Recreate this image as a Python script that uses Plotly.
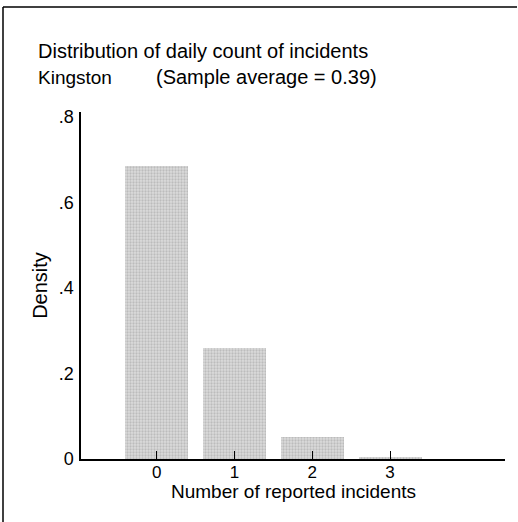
import plotly.graph_objects as go

counts = [0, 1, 2, 3]
density = [0.685, 0.26, 0.051, 0.004]
x_ticks = [0, 1, 2, 3]
x_tick_labels = ["0", "1", "2", "3"]
y_ticks = [0, 0.2, 0.4, 0.6, 0.8]
y_tick_labels = ["0", ".2", ".4", ".6", ".8"]

title_line1 = "Distribution of daily count of incidents"
title_place = "Kingston"
title_avg = "(Sample average = 0.39)"
x_title = "Number of reported incidents"
y_title = "Density"

FONT = "Liberation Sans, Arial, sans-serif"

W, H = 518, 522
l, r, t, b = 81, 13, 112, 63
pw, ph = W - l - r, H - t - b


def px_x(px):
    return (px - l) / pw


def px_y(py):
    return (H - b - py) / ph


fig = go.Figure()
fig.add_trace(go.Bar(
    x=counts, y=density, width=0.81,
    marker=dict(color="#cccccc", line=dict(width=0),
                pattern=dict(shape=".", fgcolor="#9c9c9c", bgcolor="#dcdcdc", size=3, solidity=0.45)),
    showlegend=False,
))

fig.update_layout(
    width=W, height=H,
    margin=dict(l=l, r=r, t=t, b=b, autoexpand=False),
    paper_bgcolor="white", plot_bgcolor="white",
    font=dict(family=FONT, size=18, color="black"),
    bargap=0,
    xaxis=dict(
        range=[-0.973, 4.477], tickvals=x_ticks, ticktext=x_tick_labels,
        ticks="inside", ticklen=8, tickcolor="black", tickwidth=1,
        ticklabelstandoff=-3,
        showline=True, linecolor="black", linewidth=1.5, showgrid=False, zeroline=False,
        tickfont=dict(size=17),
    ),
    yaxis=dict(
        range=[0, 0.812], tickvals=y_ticks, ticktext=y_tick_labels,
        ticks="", ticklabelstandoff=2,
        showline=True, linecolor="black", linewidth=1.5, showgrid=False, zeroline=False,
        title=dict(text=y_title, standoff=6, font=dict(size=20)),
        tickfont=dict(size=18),
    ),
    annotations=[
        dict(text=title_line1, x=px_x(36), y=px_y(51), xref="paper", yref="paper",
             xanchor="left", yanchor="middle", showarrow=False, font=dict(size=20)),
        dict(text=title_place, x=px_x(36), y=px_y(77), xref="paper", yref="paper",
             xanchor="left", yanchor="middle", showarrow=False, font=dict(size=19)),
        dict(text=title_avg, x=px_x(154), y=px_y(77), xref="paper", yref="paper",
             xanchor="left", yanchor="middle", showarrow=False, font=dict(size=20)),
        dict(text=x_title, x=0.5, y=px_y(491), xref="paper", yref="paper",
             xanchor="center", yanchor="middle", showarrow=False, font=dict(size=19)),
    ],
    shapes=[
        dict(type="line", xref="paper", yref="paper",
             x0=px_x(3), x1=px_x(517), y0=px_y(7), y1=px_y(7),
             line=dict(color="black", width=1.5)),
        dict(type="line", xref="paper", yref="paper",
             x0=px_x(3), x1=px_x(3), y0=px_y(7), y1=px_y(522),
             line=dict(color="black", width=1.5)),
    ],
)

fig.write_html("out.html", config={"displayModeBar": False},
               post_script="document.body.style.margin='0';")
